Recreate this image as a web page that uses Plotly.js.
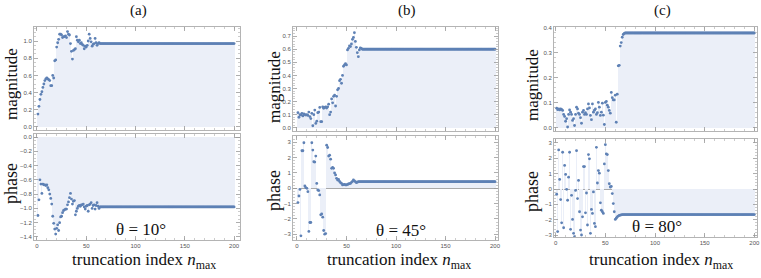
<!DOCTYPE html>
<html><head><meta charset="utf-8">
<script src="https://cdn.plot.ly/plotly-3.0.1.min.js"></script>
<style>html,body{margin:0;padding:0;background:#fff}#chart{width:761px;height:278px}</style>
</head><body><div id="chart"></div>
<script>
// truncation index n = 1..200
const nIndex = Array.from({length: 200}, (_, i) => i + 1);

const magA = [
0.15,0.24,0.32,0.38,0.41,0.46,0.50,0.54,0.56,0.57,
0.56,0.55,0.54,0.48,0.48,0.60,0.57,0.77,0.78,0.93,
0.98,1.02,1.08,1.08,1.07,1.04,1.05,1.05,1.06,1.04,
1.11,1.08,1.07,0.97,0.88,0.79,0.89,0.90,0.91,1.05,
1.01,0.99,1.01,0.97,0.98,0.96,0.95,0.91,0.94,0.93,
0.95,1.00,1.08,1.03,0.99,0.94,0.96,0.97,1.03,0.98,
0.95,0.97,0.98,0.97,0.97,0.97,0.97,0.97,0.97,0.97,
0.97,0.97,0.97,0.97,0.97,0.97,0.97,0.97,0.97,0.97,
0.97,0.97,0.97,0.97,0.97,0.97,0.97,0.97,0.97,0.97,
0.97,0.97,0.97,0.97,0.97,0.97,0.97,0.97,0.97,0.97,
0.97,0.97,0.97,0.97,0.97,0.97,0.97,0.97,0.97,0.97,
0.97,0.97,0.97,0.97,0.97,0.97,0.97,0.97,0.97,0.97,
0.97,0.97,0.97,0.97,0.97,0.97,0.97,0.97,0.97,0.97,
0.97,0.97,0.97,0.97,0.97,0.97,0.97,0.97,0.97,0.97,
0.97,0.97,0.97,0.97,0.97,0.97,0.97,0.97,0.97,0.97,
0.97,0.97,0.97,0.97,0.97,0.97,0.97,0.97,0.97,0.97,
0.97,0.97,0.97,0.97,0.97,0.97,0.97,0.97,0.97,0.97,
0.97,0.97,0.97,0.97,0.97,0.97,0.97,0.97,0.97,0.97,
0.97,0.97,0.97,0.97,0.97,0.97,0.97,0.97,0.97,0.97,
0.97,0.97,0.97,0.97,0.97,0.97,0.97,0.97,0.97,0.97];

const phaseA = [
-1.10,-0.88,-0.60,-0.66,-0.79,-0.66,-0.67,-0.67,-0.68,-0.67,
-0.71,-0.74,-0.80,-0.86,-0.94,-1.11,-1.21,-1.29,-1.36,-1.28,
-1.23,-1.31,-1.20,-1.12,-1.11,-1.06,-1.03,-1.02,-1.01,-1.01,
-0.95,-0.91,-0.85,-0.79,-0.87,-0.94,-0.90,-0.89,-1.09,-1.04,
-1.00,-0.97,-0.96,-0.97,-0.95,-0.95,-0.94,-0.98,-1.01,-0.97,
-0.96,-1.04,-0.95,-0.94,-0.92,-1.00,-0.96,-0.95,-1.01,-0.96,
-0.92,-0.97,-1.00,-0.98,-0.98,-0.98,-0.98,-0.98,-0.98,-0.98,
-0.98,-0.98,-0.98,-0.98,-0.98,-0.98,-0.98,-0.98,-0.98,-0.98,
-0.98,-0.98,-0.98,-0.98,-0.98,-0.98,-0.98,-0.98,-0.98,-0.98,
-0.98,-0.98,-0.98,-0.98,-0.98,-0.98,-0.98,-0.98,-0.98,-0.98,
-0.98,-0.98,-0.98,-0.98,-0.98,-0.98,-0.98,-0.98,-0.98,-0.98,
-0.98,-0.98,-0.98,-0.98,-0.98,-0.98,-0.98,-0.98,-0.98,-0.98,
-0.98,-0.98,-0.98,-0.98,-0.98,-0.98,-0.98,-0.98,-0.98,-0.98,
-0.98,-0.98,-0.98,-0.98,-0.98,-0.98,-0.98,-0.98,-0.98,-0.98,
-0.98,-0.98,-0.98,-0.98,-0.98,-0.98,-0.98,-0.98,-0.98,-0.98,
-0.98,-0.98,-0.98,-0.98,-0.98,-0.98,-0.98,-0.98,-0.98,-0.98,
-0.98,-0.98,-0.98,-0.98,-0.98,-0.98,-0.98,-0.98,-0.98,-0.98,
-0.98,-0.98,-0.98,-0.98,-0.98,-0.98,-0.98,-0.98,-0.98,-0.98,
-0.98,-0.98,-0.98,-0.98,-0.98,-0.98,-0.98,-0.98,-0.98,-0.98,
-0.98,-0.98,-0.98,-0.98,-0.98,-0.98,-0.98,-0.98,-0.98,-0.98];

const magB = [
0.115,0.08,0.10,0.097,0.11,0.09,0.105,0.10,0.097,0.10,
0.094,0.12,0.085,0.07,0.11,0.015,0.10,0.135,0.033,0.05,
0.115,0.12,0.155,0.046,0.046,0.16,0.148,0.155,0.16,0.15,
0.16,0.18,0.10,0.12,0.22,0.19,0.24,0.25,0.166,0.24,
0.29,0.30,0.36,0.37,0.34,0.40,0.47,0.48,0.49,0.48,
0.595,0.607,0.625,0.62,0.64,0.676,0.69,0.727,0.66,0.615,
0.574,0.543,0.595,0.61,0.607,0.60,0.60,0.60,0.60,0.60,
0.60,0.60,0.60,0.60,0.60,0.60,0.60,0.60,0.60,0.60,
0.60,0.60,0.60,0.60,0.60,0.60,0.60,0.60,0.60,0.60,
0.60,0.60,0.60,0.60,0.60,0.60,0.60,0.60,0.60,0.60,
0.60,0.60,0.60,0.60,0.60,0.60,0.60,0.60,0.60,0.60,
0.60,0.60,0.60,0.60,0.60,0.60,0.60,0.60,0.60,0.60,
0.60,0.60,0.60,0.60,0.60,0.60,0.60,0.60,0.60,0.60,
0.60,0.60,0.60,0.60,0.60,0.60,0.60,0.60,0.60,0.60,
0.60,0.60,0.60,0.60,0.60,0.60,0.60,0.60,0.60,0.60,
0.60,0.60,0.60,0.60,0.60,0.60,0.60,0.60,0.60,0.60,
0.60,0.60,0.60,0.60,0.60,0.60,0.60,0.60,0.60,0.60,
0.60,0.60,0.60,0.60,0.60,0.60,0.60,0.60,0.60,0.60,
0.60,0.60,0.60,0.60,0.60,0.60,0.60,0.60,0.60,0.60,
0.60,0.60,0.60,0.60,0.60,0.60,0.60,0.60,0.60,0.60];

const phaseB = [
-0.93,-0.50,-0.07,-3.10,2.45,2.45,2.97,0.15,0.05,0.00,
-0.22,-2.81,-2.23,-2.23,2.97,2.49,1.73,1.71,2.10,0.32,
-0.11,-0.15,-0.43,-1.73,-1.67,-1.88,-2.75,-2.99,-2.95,2.81,
2.66,2.10,2.16,1.90,1.30,1.36,1.30,1.00,0.87,0.65,
0.54,0.58,0.45,0.37,0.32,0.22,0.24,0.26,0.22,0.22,
0.25,0.28,0.30,0.32,0.39,0.45,0.54,0.48,0.43,0.37,
0.40,0.43,0.43,0.43,0.43,0.43,0.43,0.43,0.43,0.43,
0.43,0.43,0.43,0.43,0.43,0.43,0.43,0.43,0.43,0.43,
0.43,0.43,0.43,0.43,0.43,0.43,0.43,0.43,0.43,0.43,
0.43,0.43,0.43,0.43,0.43,0.43,0.43,0.43,0.43,0.43,
0.43,0.43,0.43,0.43,0.43,0.43,0.43,0.43,0.43,0.43,
0.43,0.43,0.43,0.43,0.43,0.43,0.43,0.43,0.43,0.43,
0.43,0.43,0.43,0.43,0.43,0.43,0.43,0.43,0.43,0.43,
0.43,0.43,0.43,0.43,0.43,0.43,0.43,0.43,0.43,0.43,
0.43,0.43,0.43,0.43,0.43,0.43,0.43,0.43,0.43,0.43,
0.43,0.43,0.43,0.43,0.43,0.43,0.43,0.43,0.43,0.43,
0.43,0.43,0.43,0.43,0.43,0.43,0.43,0.43,0.43,0.43,
0.43,0.43,0.43,0.43,0.43,0.43,0.43,0.43,0.43,0.43,
0.43,0.43,0.43,0.43,0.43,0.43,0.43,0.43,0.43,0.43,
0.43,0.43,0.43,0.43,0.43,0.43,0.43,0.43,0.43,0.43];

const magC = [
0.078,0.072,0.075,0.071,0.075,0.073,0.069,0.053,0.045,0.026,
0.036,0.003,0.053,0.071,0.062,0.053,0.029,0.036,0.009,0.053,
0.082,0.075,0.058,0.053,0.040,0.018,0.062,0.069,0.053,0.060,
0.053,0.075,0.095,0.079,0.049,0.032,0.095,0.062,0.070,0.075,
0.053,0.060,0.101,0.082,0.049,0.062,0.098,0.050,0.013,0.101,
0.105,0.090,0.082,0.069,0.058,0.141,0.120,0.111,0.111,0.130,
0.022,0.134,0.247,0.249,0.326,0.340,0.361,0.372,0.376,0.378,
0.378,0.378,0.378,0.378,0.378,0.378,0.378,0.378,0.378,0.378,
0.378,0.378,0.378,0.378,0.378,0.378,0.378,0.378,0.378,0.378,
0.378,0.378,0.378,0.378,0.378,0.378,0.378,0.378,0.378,0.378,
0.378,0.378,0.378,0.378,0.378,0.378,0.378,0.378,0.378,0.378,
0.378,0.378,0.378,0.378,0.378,0.378,0.378,0.378,0.378,0.378,
0.378,0.378,0.378,0.378,0.378,0.378,0.378,0.378,0.378,0.378,
0.378,0.378,0.378,0.378,0.378,0.378,0.378,0.378,0.378,0.378,
0.378,0.378,0.378,0.378,0.378,0.378,0.378,0.378,0.378,0.378,
0.378,0.378,0.378,0.378,0.378,0.378,0.378,0.378,0.378,0.378,
0.378,0.378,0.378,0.378,0.378,0.378,0.378,0.378,0.378,0.378,
0.378,0.378,0.378,0.378,0.378,0.378,0.378,0.378,0.378,0.378,
0.378,0.378,0.378,0.378,0.378,0.378,0.378,0.378,0.378,0.378,
0.378,0.378,0.378,0.378,0.378,0.378,0.378,0.378,0.378,0.378];

const phaseC = [
-0.34,-2.77,2.54,0.62,-0.69,-2.20,2.39,-2.52,1.53,0.95,
-0.02,-0.73,0.77,2.39,-2.62,-0.41,-1.98,-2.88,-3.10,-0.09,
2.49,-0.62,0.56,-1.48,-2.67,-2.99,-1.81,1.46,1.46,-1.55,
-0.26,-2.34,2.24,1.96,-2.88,-1.33,-1.59,-0.19,-2.24,-2.45,
2.71,0.39,1.20,1.03,-0.90,-1.38,-1.48,-1.59,1.63,2.88,
2.28,2.24,1.20,0.34,0.13,0.17,-0.30,-0.95,-1.48,-1.98,
-1.90,-1.81,-1.76,-1.72,-1.70,-1.68,-1.67,-1.66,-1.66,-1.66,
-1.66,-1.66,-1.66,-1.66,-1.66,-1.66,-1.66,-1.66,-1.66,-1.66,
-1.66,-1.66,-1.66,-1.66,-1.66,-1.66,-1.66,-1.66,-1.66,-1.66,
-1.66,-1.66,-1.66,-1.66,-1.66,-1.66,-1.66,-1.66,-1.66,-1.66,
-1.66,-1.66,-1.66,-1.66,-1.66,-1.66,-1.66,-1.66,-1.66,-1.66,
-1.66,-1.66,-1.66,-1.66,-1.66,-1.66,-1.66,-1.66,-1.66,-1.66,
-1.66,-1.66,-1.66,-1.66,-1.66,-1.66,-1.66,-1.66,-1.66,-1.66,
-1.66,-1.66,-1.66,-1.66,-1.66,-1.66,-1.66,-1.66,-1.66,-1.66,
-1.66,-1.66,-1.66,-1.66,-1.66,-1.66,-1.66,-1.66,-1.66,-1.66,
-1.66,-1.66,-1.66,-1.66,-1.66,-1.66,-1.66,-1.66,-1.66,-1.66,
-1.66,-1.66,-1.66,-1.66,-1.66,-1.66,-1.66,-1.66,-1.66,-1.66,
-1.66,-1.66,-1.66,-1.66,-1.66,-1.66,-1.66,-1.66,-1.66,-1.66,
-1.66,-1.66,-1.66,-1.66,-1.66,-1.66,-1.66,-1.66,-1.66,-1.66,
-1.66,-1.66,-1.66,-1.66,-1.66,-1.66,-1.66,-1.66,-1.66,-1.66];

const panelLabels = ['(a)', '(b)', '(c)'];
const thetaLabels = ['θ = 10°', 'θ = 45°', 'θ = 80°'];
const xTickVals = [0, 50, 100, 150, 200];

// ---- layout geometry (pixels) ----
const W = 761, H = 278;
const PX = v => v / W, PY = v => 1 - v / H;
const panels = [
  {mag: magA, ph: phaseA, x0: 34, x1: 240, t0: 27, t1: 130, b0: 134, b1: 240,
   xr: [-3, 206], magR: [-0.035, 1.163], magD: 0.2, magM: 0.05, magF: '.1f',
   phR: [-1.443, 0.042], phD: 0.2, phM: 0.05, phF: '.1f',
   labX: 138, ylabX: 11, magY: 84, phY: 184, thX: 141, thY: 229, nX: 144},
  {mag: magB, ph: phaseB, x0: 293, x1: 498, t0: 27, t1: 131, b0: 136, b1: 240,
   xr: [-4, 203], magR: [-0.025, 0.770], magD: 0.1, magM: 0.02, magF: '.1f',
   phR: [-3.37, 3.41], phD: 1, phM: 0.2, phF: 'd',
   labX: 407, ylabX: 274, magY: 87, phY: 191, thX: 401, thY: 230, nX: 399},
  {mag: magC, ph: phaseC, x0: 554, x1: 757, t0: 27, t1: 131, b0: 139, b1: 237,
   xr: [-1.7, 202.7], magR: [-0.013, 0.402], magD: 0.1, magM: 0.02, magF: '.1f',
   phR: [-3.12, 3.25], phD: 1, phM: 0.2, phF: 'd',
   labX: 662, ylabX: 532, magY: 85, phY: 192, thX: 657, thY: 226, nX: 661}
];

const pointColor = '#5e81b5';
const fillColor = '#ebeff8';
const frameColor = '#b4b4b4';
const tickFont = {family: 'Liberation Sans, Arial, sans-serif', size: 6, color: '#555'};
const serif = 'Liberation Serif';

const data = [];
const layout = {
  width: W, height: H, margin: {l: 0, r: 0, t: 0, b: 0},
  paper_bgcolor: '#fff', plot_bgcolor: '#fff', showlegend: false,
  bargap: 0, annotations: []
};

function axisBase(extra) {
  return Object.assign({
    showline: true, linecolor: frameColor, linewidth: 1, mirror: 'ticks',
    ticks: 'inside', ticklen: 4, tickwidth: 0.8, tickcolor: '#9a9a9a',
    showgrid: false, zeroline: false, tickfont: tickFont, fixedrange: true
  }, extra);
}

panels.forEach((p, i) => {
  const k = 2 * i + 1;
  const k2 = 2 * i + 2;
  const xa = k === 1 ? 'x' : 'x' + k, ya = k === 1 ? 'y' : 'y' + k;
  const xb = 'x' + k2, yb = 'y' + k2;

  data.push({type: 'bar', x: nIndex, y: p.mag, xaxis: xa, yaxis: ya,
    marker: {color: fillColor, line: {width: 0}}, hoverinfo: 'skip'});
  data.push({type: 'scatter', mode: 'markers', x: nIndex, y: p.mag, xaxis: xa, yaxis: ya,
    marker: {color: pointColor, size: 2.8}, hoverinfo: 'skip'});
  data.push({type: 'bar', x: nIndex, y: p.ph, xaxis: xb, yaxis: yb,
    marker: {color: fillColor, line: {width: 0}}, hoverinfo: 'skip'});
  data.push({type: 'scatter', mode: 'markers', x: nIndex, y: p.ph, xaxis: xb, yaxis: yb,
    marker: {color: pointColor, size: 2.8}, hoverinfo: 'skip'});

  const xdom = [PX(p.x0), PX(p.x1)];
  layout['xaxis' + (k === 1 ? '' : k)] = axisBase({
    domain: xdom, range: p.xr, anchor: ya, tickvals: xTickVals, showticklabels: false,
    minor: {dtick: 10, ticks: 'inside', ticklen: 2, tickcolor: '#aaa', tickwidth: 0.6}
  });
  layout['yaxis' + (k === 1 ? '' : k)] = axisBase({
    domain: [PY(p.t1), PY(p.t0)], range: p.magR, anchor: xa,
    dtick: p.magD, tick0: 0, tickformat: p.magF,
    minor: {dtick: p.magM, ticks: 'inside', ticklen: 2, tickcolor: '#aaa', tickwidth: 0.6}
  });
  layout['xaxis' + k2] = axisBase({
    domain: xdom, range: p.xr, anchor: yb, tickvals: xTickVals,
    minor: {dtick: 10, ticks: 'inside', ticklen: 2, tickcolor: '#aaa', tickwidth: 0.6}
  });
  layout['yaxis' + k2] = axisBase({
    domain: [PY(p.b1), PY(p.b0)], range: p.phR, anchor: xb,
    dtick: p.phD, tick0: 0, tickformat: p.phF,
    zeroline: true, zerolinecolor: '#a8a8a8', zerolinewidth: 1,
    minor: {dtick: p.phM, ticks: 'inside', ticklen: 2, tickcolor: '#aaa', tickwidth: 0.6}
  });

  const ann = (text, x, y, size, extra) => layout.annotations.push(Object.assign({
    text: text, x: PX(x), y: PY(y), xref: 'paper', yref: 'paper',
    xanchor: 'center', yanchor: 'middle', showarrow: false,
    font: {family: serif, size: size, color: '#111'}
  }, extra || {}));

  ann(panelLabels[i], p.labX, 11, 15);
  ann('magnitude', p.ylabX, p.magY, 17, {textangle: -90});
  ann('phase', p.ylabX, p.phY, 18, {textangle: -90});
  ann(thetaLabels[i], p.thX, p.thY, 17);
  ann('truncation index <i>n</i><sub>max</sub>', p.nX, 261, 17);
});

Plotly.newPlot('chart', data, layout, {staticPlot: true, displayModeBar: false});
</script>
</body></html>
